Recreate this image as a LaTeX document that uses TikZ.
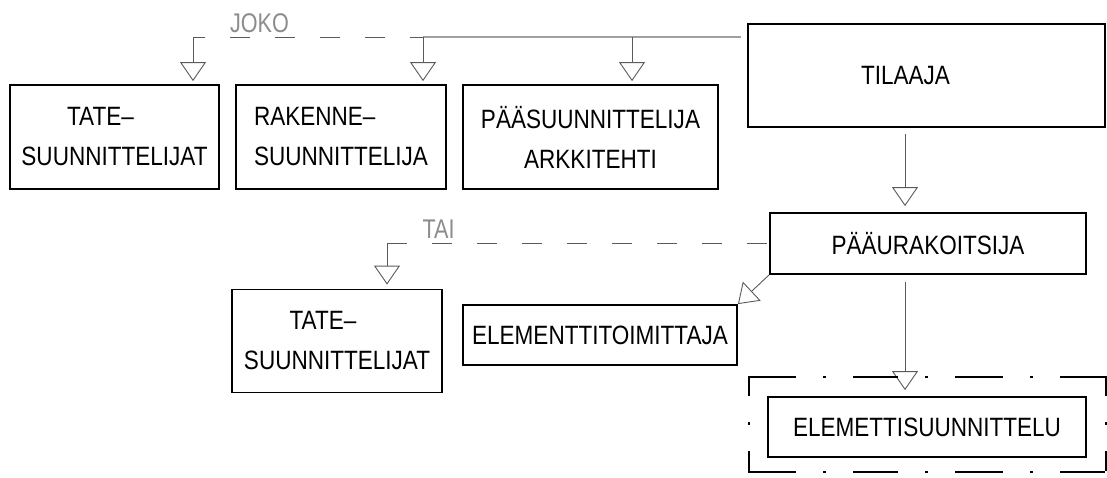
\documentclass[tikz,border=0pt]{standalone}
\usepackage{fontspec}
\setmainfont{Liberation Sans}[FakeStretch=0.85]
\newfontfamily\notefont{Liberation Sans}[FakeStretch=0.8]
\usetikzlibrary{arrows.meta,calc}
\definecolor{linegray}{HTML}{5A5A5A}
\definecolor{busgray}{HTML}{A0A0A0}
\definecolor{notegray}{HTML}{8C8C8C}

\begin{document}
\begin{tikzpicture}[x=1pt,y=-1pt,
  box/.style={draw=black, line width=1.8pt, inner sep=0pt,
    font=\fontsize{26.5}{40}\selectfont, align=center},
  conn/.style={draw=linegray, line width=0.9pt,
    -{Triangle[open,length=19pt,width=26pt,line width=0.9pt]}},
  dashline/.style={draw=linegray, line width=0.9pt},
  busline/.style={draw=busgray, line width=1.2pt},
  note/.style={font=\notefont\fontsize{27}{27}\selectfont, text=notegray, inner sep=0pt},
  frameside/.style={draw=black, line width=2pt}]

\useasboundingbox (0,0) rectangle (1107,477);

% organisation boxes
\node[box, minimum width=209pt, minimum height=104pt] (tate1) at (114.5,137)
  {\hbox{TATE–\kern28pt}\\SUUNNITTELIJAT};
\node[box, align=left, minimum width=210pt, minimum height=104pt] (rak) at (341,137)
  {RAKENNE–\\SUUNNITTELIJA};
\node[box, minimum width=255pt, minimum height=104pt] (paa) at (590.5,137)
  {PÄÄSUUNNITTELIJA\\ARKKITEHTI};
\node[box, minimum width=357pt, minimum height=103pt] (til) at (926.5,75.5)
  {\hbox{TILAAJA\kern42pt}};
\node[box, minimum width=316pt, minimum height=61pt] (pu) at (928,243.5)
  {PÄÄURAKOITSIJA};
\node[box, minimum width=210pt, minimum height=103pt] (tate2) at (337,341)
  {\hbox{TATE–\kern28pt}\\SUUNNITTELIJAT};
\node[box, minimum width=274pt, minimum height=60pt] (elt) at (600,335)
  {ELEMENTTITOIMITTAJA};
\node[box, minimum width=318pt, minimum height=60pt] (els) at (927,427)
  {ELEMETTISUUNNITTELU};

% junction points
\coordinate (j1) at (193,37);
\coordinate (j2) at (423,37);
\coordinate (j3) at (632,37);
\coordinate (c1) at (905,0);
\coordinate (t1) at (387,243);

% client line to the designers (either / or)
\draw[busline] ([xshift=-6pt]til.west |- j2) -- (j2);
\draw[dashline, dash pattern=on 20pt off 25pt, dash phase=7pt] (j2) -- (j1);
\draw[conn, shorten >=3pt] (j1) -- (tate1.north -| j1);
\draw[conn, shorten >=3pt] (j2) -- (rak.north -| j2);
\draw[conn, shorten >=3pt] (j3) -- (paa.north -| j3);
\node[note, anchor=base] (joko) at (259.5,32) {JOKO};

% client to main contractor
\draw[conn, shorten <=6pt, shorten >=6pt] (til.south -| c1) -- (pu.north -| c1);

% main contractor to the designers (or)
\draw[dashline, dash pattern=on 20pt off 25pt] (t1) -- (pu.west |- t1);
\draw[conn, shorten >=4pt] (t1) -- (tate2.north -| t1);
\node[note, anchor=base] (tai) at (438.5,238) {TAI};

% main contractor to element supplier and element design
\draw[conn] (pu.south west) -- (elt.north east);
\draw[conn, shorten <=7pt, shorten >=6pt] (pu.south -| c1) -- (els.north -| c1);

% dash-dot frame round the element design
\draw[frameside, dash pattern=on 48pt off 27pt on 3pt off 27pt on 45pt off 27pt on 3pt off 27pt]
  (748,377) -- (1107,377);
\draw[frameside, dash pattern=on 48pt off 27pt on 3pt off 27pt on 45pt off 27pt on 3pt off 27pt]
  (748,472) -- (1107,472);
\draw[frameside, dash pattern=on 20pt off 26pt on 3pt off 26pt on 20pt off 60pt]
  (749,376) -- (749,473);
\draw[frameside, dash pattern=on 20pt off 26pt on 3pt off 26pt on 20pt off 60pt]
  (1106,376) -- (1106,473);
\end{tikzpicture}
\end{document}
